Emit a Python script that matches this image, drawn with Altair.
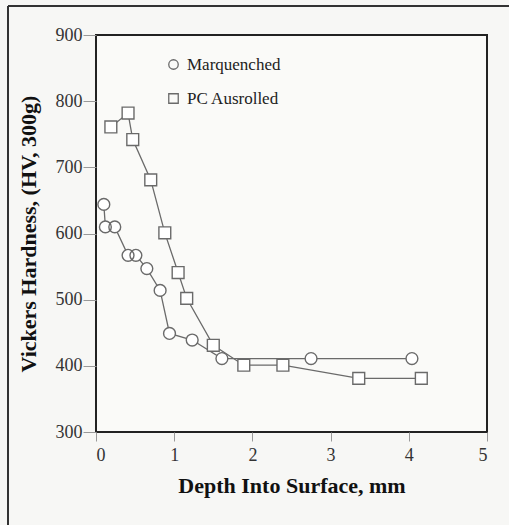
import altair as alt
import pandas as pd

# Marquenched (circles)
mq_depth = [0.10, 0.12, 0.24, 0.41, 0.51, 0.65, 0.82, 0.94, 1.23, 1.61, 2.75, 4.04]
mq_hv = [644, 610, 610, 567, 567, 547, 514, 449, 439, 411, 411, 411]

# PC Ausrolled (squares)
pc_depth = [0.19, 0.41, 0.47, 0.70, 0.88, 1.05, 1.16, 1.50, 1.89, 2.39, 3.36, 4.16]
pc_hv = [761, 782, 742, 681, 601, 541, 502, 431, 401, 401, 381, 381]

series_names = ["Marquenched", "PC Ausrolled"]
series_shapes = ["circle", "square"]
x_ticks = [0, 1, 2, 3, 4, 5]
y_ticks = [300, 400, 500, 600, 700, 800, 900]

df = pd.concat([
    pd.DataFrame({"depth": mq_depth, "hv": mq_hv, "series": series_names[0], "order": range(len(mq_depth))}),
    pd.DataFrame({"depth": pc_depth, "hv": pc_hv, "series": series_names[1], "order": range(len(pc_depth))}),
])

FONT = "Liberation Serif"
GRAY = "#6a6a6a"

x_enc = alt.X("depth:Q", scale=alt.Scale(domain=[0, 5], nice=False),
              axis=alt.Axis(values=x_ticks, format="d", title="Depth Into Surface, mm",
                            titlePadding=11))
y_enc = alt.Y("hv:Q", scale=alt.Scale(domain=[300, 900], nice=False, zero=False),
              axis=alt.Axis(values=y_ticks, format="d",
                            title="Vickers Hardness, (HV, 300g)", titlePadding=15))

shape_scale = alt.Scale(domain=series_names, range=series_shapes)

base = alt.Chart(df)

lines = base.mark_line(color=GRAY, strokeWidth=1.3).encode(
    x=x_enc, y=y_enc, detail="series:N", order="order:Q"
)

# white-filled backing for each marker so lines don't show through
bg_layers = [
    base.transform_filter(alt.datum.series == name)
    .mark_point(filled=True, color="white", size=140, opacity=1, shape=shp)
    .encode(x="depth:Q", y="hv:Q")
    for name, shp in zip(series_names, series_shapes)
]

points_fg = base.mark_point(filled=False, color=GRAY, strokeWidth=1.4, size=140, opacity=1).encode(
    x="depth:Q", y="hv:Q",
    shape=alt.Shape("series:N", scale=shape_scale,
                    legend=alt.Legend(title=None, orient="none", legendX=69, legendY=21,
                                      labelFont=FONT, labelFontSize=17, labelColor="#222",
                                      symbolSize=90, symbolStrokeColor=GRAY,
                                      symbolStrokeWidth=1.3, rowPadding=16, labelOffset=5)),
)

frame_data = alt.Chart(pd.DataFrame({"a": [0]}))
top_line = frame_data.mark_rule(color="#333", strokeWidth=2).encode(
    x=alt.value(-88), x2=alt.value(413), y=alt.value(-29)
)
left_line = frame_data.mark_rule(color="#333", strokeWidth=2).encode(
    x=alt.value(-88), y=alt.value(-29), y2=alt.value(490)
)

chart = alt.layer(top_line, left_line, lines, *bg_layers, points_fg).properties(
    width=391, height=397,
    autosize=alt.AutoSizeParams(type="none"),
    padding={"left": 96, "top": 35, "right": 22, "bottom": 93},
    background="#f7f7f5",
).configure_view(
    stroke="#222", strokeWidth=2, fill="#fafaf8"
).configure_axis(
    domain=False, grid=False,
    labelFont=FONT, labelFontSize=18, labelColor="#333",
    titleFont=FONT, titleFontSize=22, titleFontWeight="bold", titleColor="#111",
    tickColor="#999", tickSize=9,
).configure_axisY(
    tickSize=13, labelPadding=1
).configure_axisX(
    labelPadding=5
)

chart.save("out.html", embed_options={"renderer": "svg", "actions": False})
